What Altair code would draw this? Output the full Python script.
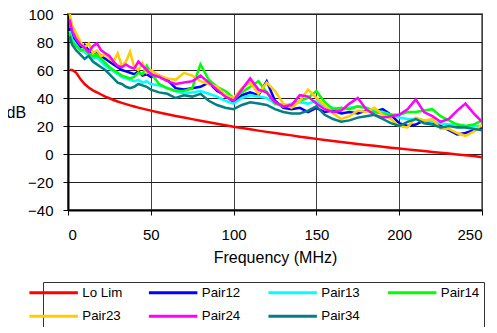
import altair as alt
import pandas as pd

freq = [1, 2.5, 5, 7.5, 10, 12.5, 15, 17.5, 20, 22.5, 25, 27.5, 30, 32.5, 35, 37.5, 40, 42.5, 45, 47.5, 50,
        55, 60, 65, 70, 75, 80, 85, 90, 95, 100, 105, 110, 115, 120, 125, 130, 135, 140, 145, 150,
        155, 160, 165, 170, 175, 180, 185, 190, 195, 200, 205, 210, 215, 220, 225, 230, 235, 240, 245, 250]

lo_lim = [60, 60, 58, 53.5, 50, 47.5, 45.5, 44, 42.5, 41, 39.8, 38.6, 37.5, 36.5, 35.6, 34.7, 33.9, 33.1, 32.4, 31.7, 31,
          29.7, 28.4, 27.2, 26, 24.9, 23.8, 22.7, 21.6, 20.5, 19.4, 18.5, 17.6, 16.7, 15.8, 15, 14.1, 13.3, 12.4, 11.6, 10.8,
          10, 9.3, 8.6, 7.9, 7.2, 6.5, 5.9, 5.2, 4.5, 3.9, 3.3, 2.7, 2.1, 1.5, 0.9, 0.3, -0.3, -0.9, -1.5, -2.3]

pair12 = [90, 84, 80, 76, 78, 74, 72, 73, 70, 68, 66, 64, 62, 60, 59, 58, 57, 59, 56, 57, 55,
          56, 53, 47, 46, 47, 48, 51, 45, 42, 37, 42, 44, 42, 52, 38, 33, 32, 33, 30, 33,
          30, 31, 29, 30, 29, 31, 30, 32, 28, 22, 20, 21, 24, 22, 20, 17, 14, 15, 17, 19]

pair13 = [88, 82, 78, 74, 73, 70, 68, 69, 66, 63, 61, 59, 57, 55, 54, 53, 52, 53, 51, 52, 50,
          49, 47, 45, 43, 44, 45, 43, 41, 38, 36, 40, 42, 41, 40, 36, 34, 36, 37, 36, 38,
          34, 33, 32, 33, 34, 33, 31, 30, 28, 26, 25, 25, 24, 23, 22, 21, 21, 20, 20, 20]

pair14 = [86, 80, 77, 74, 75, 72, 70, 71, 68, 65, 62, 60, 58, 56, 55, 54, 55, 58, 57, 63, 58,
          50, 47, 45, 45, 47, 64, 53, 48, 45, 40, 44, 48, 52, 44, 36, 35, 35, 38, 40, 45,
          37, 32, 33, 32, 34, 33, 30, 29, 28, 28, 30, 30, 31, 32, 27, 24, 21, 20, 21, 24]

pair23 = [100, 92, 86, 80, 76, 79, 72, 74, 70, 71, 68, 66, 72, 63, 66, 73, 62, 60, 65, 58, 60,
          56, 54, 53, 58, 56, 52, 50, 48, 42, 40, 47, 51, 43, 51, 45, 36, 33, 38, 46, 40,
          35, 29, 25, 27, 31, 30, 33, 28, 25, 20, 19, 26, 24, 25, 18, 18, 15, 13, 16, 21]

pair24 = [96, 88, 82, 78, 76, 73, 77, 79, 74, 72, 70, 66, 63, 62, 64, 62, 61, 66, 63, 60, 57,
          55, 52, 50, 51, 52, 56, 51, 46, 41, 38, 46, 54, 46, 44, 37, 34, 35, 42, 41, 36,
          32, 30, 31, 36, 40, 32, 28, 26, 27, 28, 32, 39, 30, 27, 23, 25, 31, 36, 29, 23]

pair34 = [84, 78, 74, 71, 68, 70, 66, 64, 62, 60, 57, 54, 51, 50, 48, 47, 48, 50, 49, 48, 46,
          44, 43, 40, 42, 41, 43, 38, 35, 33, 32, 35, 37, 36, 35, 32, 30, 29, 29, 31, 34,
          28, 25, 23, 24, 26, 27, 28, 25, 22, 20, 23, 25, 22, 21, 19, 20, 19, 19, 18, 17]

names = ["Lo Lim", "Pair12", "Pair13", "Pair14", "Pair23", "Pair24", "Pair34"]
colors = ["#FF0000", "#0000FF", "#00FFFF", "#00FF00", "#FFCC00", "#FF00FF", "#008080"]
series = [lo_lim, pair12, pair13, pair14, pair23, pair24, pair34]

rows = []
for n, vals in zip(names, series):
    for f, v in zip(freq, vals):
        rows.append({"freq": f, "dB": v, "series": n})
df = pd.DataFrame(rows)

FONT = "Liberation Sans"

chart = alt.Chart(df).mark_line(strokeWidth=2.5, clip=True).encode(
    x=alt.X("freq:Q",
            scale=alt.Scale(domain=[0, 250], nice=False, zero=False),
            axis=alt.Axis(values=[0, 50, 100, 150, 200, 250], title="Frequency (MHz)",
                          grid=True, gridColor="#404040", gridWidth=1,
                          domainColor="#000000", domainWidth=2,
                          tickColor="#000000", tickSize=5, tickWidth=1,
                          labelPadding=12, labelFont=FONT, labelFontSize=15, labelColor="#000000",
                          titleFont=FONT, titleFontSize=16, titleFontWeight="normal", titleColor="#000000",
                          titleY=47, titleBaseline="middle")),
    y=alt.Y("dB:Q",
            scale=alt.Scale(domain=[-40, 100], nice=False, zero=False),
            axis=alt.Axis(values=[-40, -20, 0, 20, 40, 60, 80, 100], title="dB",
                          grid=True, gridColor="#202020", gridWidth=1,
                          domainColor="#000000", domainWidth=2,
                          tickColor="#000000", tickSize=5, tickWidth=1,
                          labelPadding=10, labelFont=FONT, labelFontSize=15, labelColor="#000000",
                          titleFont=FONT, titleFontSize=16, titleFontWeight="normal", titleColor="#000000",
                          titleAngle=0, titleX=-62, titleY=98, titleAlign="left", titleBaseline="middle")),
    color=alt.Color("series:N",
                    scale=alt.Scale(domain=names, range=colors),
                    legend=alt.Legend(orient="none", legendX=-25, legendY=268, columns=4, title=None,
                                      direction="horizontal",
                                      symbolType="M-5,0H5", symbolSize=94, symbolStrokeWidth=3,
                                      labelFont=FONT, labelFontSize=13.3, labelColor="#000000",
                                      labelOffset=22, strokeColor="#333333",
                                      padding=4, columnPadding=19.5, rowPadding=9.5, gridAlign="all",
                                      fillColor="#FFFFFF")),
    order=alt.Order("freq:Q"),
).properties(
    width=414, height=196,
    autosize=alt.AutoSizeParams(type="none"),
    padding={"left": 60, "top": 6, "right": 7, "bottom": 117},
    background="#FFFFFF",
).configure_view(stroke="#808080", strokeWidth=2).configure_legend(
    strokeColor="#333333", strokeWidth=1
)

chart.save("out.html", embed_options={"renderer": "svg", "actions": False})
